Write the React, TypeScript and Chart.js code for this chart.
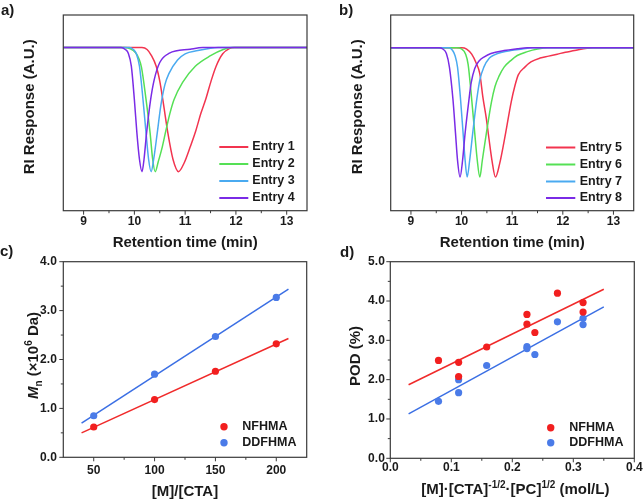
import React, { useEffect, useRef } from 'react';
import { Chart, registerables } from 'chart.js';

Chart.register(...registerables);

// ---------- Panel a: RI traces (retention time, min) ----------
const A_LABELS = ['Entry 1', 'Entry 2', 'Entry 3', 'Entry 4'];
const A1_T = [8.6, 10.15, 10.25, 10.33, 10.43, 10.5, 10.56, 10.66, 10.76, 10.87, 10.98, 11.1, 11.21, 11.31, 11.41, 11.51, 11.61, 11.74, 11.87, 11.97, 13.4];
const A1_V = [0, 0, -0.015, -0.06, -0.15, -0.27, -0.42, -0.69, -0.9, -1, -0.93, -0.8, -0.67, -0.53, -0.41, -0.27, -0.15, -0.05, -0.008, 0, 0];
const A2_T = [8.6, 9.8, 9.92, 10.02, 10.09, 10.14, 10.23, 10.31, 10.36, 10.41, 10.47, 10.55, 10.62, 10.7, 10.78, 10.95, 11.2, 11.5, 11.75, 11.92, 13.4];
const A2_V = [0, 0, -0.01, -0.04, -0.09, -0.16, -0.42, -0.69, -0.9, -1, -0.92, -0.8, -0.67, -0.53, -0.42, -0.28, -0.15, -0.065, -0.015, 0, 0];
const A3_T = [8.6, 9.9, 9.98, 10.04, 10.1, 10.17, 10.23, 10.28, 10.33, 10.38, 10.45, 10.52, 10.6, 10.68, 10.85, 11.0, 11.25, 11.5, 11.65, 13.4];
const A3_V = [0, 0, -0.015, -0.05, -0.15, -0.42, -0.69, -0.9, -1, -0.9, -0.69, -0.47, -0.3, -0.21, -0.1, -0.05, -0.024, -0.005, 0, 0];
const A4_T = [8.6, 9.74, 9.82, 9.88, 9.94, 10.0, 10.05, 10.1, 10.15, 10.19, 10.24, 10.32, 10.39, 10.5, 10.69, 11.1, 11.35, 13.4];
const A4_V = [0, 0, -0.015, -0.045, -0.15, -0.42, -0.69, -0.9, -1, -0.9, -0.69, -0.42, -0.26, -0.12, -0.045, -0.013, 0, 0];

// ---------- Panel b ----------
const B_LABELS = ['Entry 5', 'Entry 6', 'Entry 7', 'Entry 8'];
const B5_T = [8.6, 10.0, 10.1, 10.2, 10.29, 10.36, 10.42, 10.49, 10.54, 10.6, 10.67, 10.75, 10.87, 10.98, 11.05, 11.12, 11.25, 11.37, 11.55, 11.72, 11.89, 12.05, 12.28, 12.48, 12.6, 13.4];
const B5_V = [0, 0, -0.01, -0.05, -0.12, -0.2, -0.38, -0.55, -0.7, -0.87, -1, -0.9, -0.66, -0.42, -0.3, -0.21, -0.15, -0.11, -0.08, -0.065, -0.05, -0.035, -0.018, -0.005, 0, 0];
const B6_T = [8.6, 9.9, 10.0, 10.08, 10.13, 10.2, 10.26, 10.31, 10.36, 10.41, 10.49, 10.59, 10.66, 10.74, 10.84, 10.97, 11.1, 11.3, 11.5, 11.7, 13.4];
const B6_V = [0, 0, -0.01, -0.05, -0.13, -0.4, -0.66, -0.87, -1, -0.87, -0.66, -0.42, -0.3, -0.22, -0.15, -0.1, -0.06, -0.03, -0.01, 0, 0];
const B7_T = [8.6, 9.75, 9.82, 9.87, 9.92, 9.98, 10.03, 10.07, 10.11, 10.16, 10.22, 10.3, 10.36, 10.44, 10.55, 10.65, 10.8, 10.97, 11.2, 11.4, 13.4];
const B7_V = [0, 0, -0.02, -0.06, -0.15, -0.4, -0.66, -0.87, -1, -0.87, -0.66, -0.4, -0.25, -0.15, -0.08, -0.055, -0.035, -0.022, -0.01, 0, 0];
const B8_T = [8.6, 9.55, 9.63, 9.7, 9.76, 9.83, 9.88, 9.92, 9.97, 10.02, 10.07, 10.14, 10.19, 10.26, 10.35, 10.45, 10.58, 10.84, 11.1, 11.3, 13.4];
const B8_V = [0, 0, -0.01, -0.045, -0.15, -0.4, -0.66, -0.87, -1, -0.87, -0.66, -0.42, -0.27, -0.16, -0.1, -0.07, -0.045, -0.022, -0.008, 0, 0];

const RT_TICKS = [9, 10, 11, 12, 13];
const RT_MINOR = [9.5, 10.5, 11.5, 12.5];
const RT_MIN = 8.6;
const RT_MAX = 13.4;

// ---------- Panel c: Mn vs [M]/[CTA] ----------
const C_SERIES = ['NFHMA', 'DDFHMA'];
const C_X = [50, 100, 150, 200];
const C_NF = [0.62, 1.18, 1.76, 2.32];
const C_DD = [0.85, 1.7, 2.47, 3.27];
const C_FIT_X = [40, 210];
const C_NF_FIT = [0.5, 2.43];
const C_DD_FIT = [0.7, 3.44];
const C_X_TICKS = [50, 100, 150, 200];
const C_X_MINOR = [75, 125, 175];
const C_Y_TICKS = [0, 1, 2, 3, 4];
const C_Y_MINOR = [0.5, 1.5, 2.5, 3.5];

// ---------- Panel d: POD vs [M][CTA]^-1/2[PC]^1/2 ----------
const D_NF_X = [0.079, 0.112, 0.112, 0.158, 0.224, 0.224, 0.237, 0.274, 0.316, 0.316];
const D_NF_Y = [2.49, 2.44, 2.08, 2.83, 3.66, 3.41, 3.2, 4.2, 3.96, 3.72];
const D_DD_X = [0.079, 0.112, 0.112, 0.158, 0.224, 0.224, 0.237, 0.274, 0.316, 0.316];
const D_DD_Y = [1.45, 2.0, 1.67, 2.36, 2.84, 2.79, 2.64, 3.47, 3.56, 3.4];
const D_FIT_X = [0.03, 0.35];
const D_NF_FIT = [1.87, 4.3];
const D_DD_FIT = [1.13, 3.85];
const D_X_TICKS = [0, 0.1, 0.2, 0.3, 0.4];
const D_X_MINOR = [0.05, 0.15, 0.25, 0.35];
const D_Y_TICKS = [0, 1, 2, 3, 4, 5];
const D_Y_MINOR = [0.5, 1.5, 2.5, 3.5, 4.5];

// ---------- styles ----------
const FONT = '"Liberation Sans", Arial, Helvetica, sans-serif';
const TEXT = '#1a1a1a';
const FRAME = '#3a3a3a';
const ENTRY_COLORS = ['#f2344f', '#55e055', '#4aaaf0', '#7a2be6'];
const DOT_RED = '#f21f1f';
const DOT_BLUE = '#4a7be8';
const LINE_RED = '#f02a2a';
const LINE_BLUE = '#3b6fe4';

type Seg = { t: string; size?: number; dy?: number; italic?: boolean };

function segFont(s: Seg, base: number) {
  return `${s.italic ? 'italic ' : ''}bold ${s.size ?? base}px ${FONT}`;
}

function drawRich(ctx: CanvasRenderingContext2D, segs: Seg[], cx: number, cy: number, base: number, rotate: boolean) {
  ctx.save();
  ctx.translate(cx, cy);
  if (rotate) ctx.rotate(-Math.PI / 2);
  let w = 0;
  for (const s of segs) {
    ctx.font = segFont(s, base);
    w += ctx.measureText(s.t).width;
  }
  let x = -w / 2;
  ctx.textAlign = 'left';
  ctx.textBaseline = 'alphabetic';
  ctx.fillStyle = TEXT;
  for (const s of segs) {
    ctx.font = segFont(s, base);
    ctx.fillText(s.t, x, base * 0.36 + (s.dy ?? 0));
    x += ctx.measureText(s.t).width;
  }
  ctx.restore();
}

interface Decor {
  letter: string;
  letterX: number;
  letterY: number;
  xTicks: number[];
  xMinor: number[];
  xFmt: (v: number) => string;
  xLabelDy: number;
  yTicks: number[];
  yMinor: number[];
  yFmt: (v: number) => string;
  yLabelDx: number;
  xTitle: Seg[];
  xTitleDy: number;
  xTitleDx: number;
  yTitle: Seg[];
  yTitleDx: number;
  yTitleDy: number;
  legend: { kind: 'line' | 'dot'; x0: number; x1: number; textX: number; rows: number[] };
}

function decorPlugin(cfg: Decor) {
  return {
    id: 'decor',
    afterDraw(chart: any) {
      const ctx: CanvasRenderingContext2D = chart.ctx;
      const ca = chart.chartArea;
      const xs = chart.scales.x;
      const ys = chart.scales.y;
      const seg = (x1: number, y1: number, x2: number, y2: number) => {
        ctx.beginPath();
        ctx.moveTo(x1, y1);
        ctx.lineTo(x2, y2);
        ctx.stroke();
      };
      ctx.save();
      ctx.strokeStyle = FRAME;
      ctx.lineWidth = 1.2;
      ctx.strokeRect(ca.left, ca.top, ca.right - ca.left, ca.bottom - ca.top);
      ctx.lineWidth = 1;
      cfg.xTicks.forEach((v) => { const p = xs.getPixelForValue(v); seg(p, ca.bottom, p, ca.bottom + 4); });
      cfg.xMinor.forEach((v) => { const p = xs.getPixelForValue(v); seg(p, ca.bottom, p, ca.bottom + 2.5); });
      cfg.yTicks.forEach((v) => { const p = ys.getPixelForValue(v); seg(ca.left, p, ca.left - 4, p); });
      cfg.yMinor.forEach((v) => { const p = ys.getPixelForValue(v); seg(ca.left, p, ca.left - 2.5, p); });

      ctx.fillStyle = TEXT;
      ctx.font = `bold 12px ${FONT}`;
      ctx.textAlign = 'center';
      ctx.textBaseline = 'middle';
      cfg.xTicks.forEach((v) => ctx.fillText(cfg.xFmt(v), xs.getPixelForValue(v), ca.bottom + cfg.xLabelDy));
      ctx.textAlign = 'right';
      cfg.yTicks.forEach((v) => ctx.fillText(cfg.yFmt(v), ca.left - cfg.yLabelDx, ys.getPixelForValue(v)));

      drawRich(ctx, cfg.xTitle, (ca.left + ca.right) / 2 + cfg.xTitleDx, ca.bottom + cfg.xTitleDy, 15, false);
      drawRich(ctx, cfg.yTitle, ca.left - cfg.yTitleDx, (ca.top + ca.bottom) / 2 + cfg.yTitleDy, 15, true);

      ctx.fillStyle = TEXT;
      ctx.font = `bold 15px ${FONT}`;
      ctx.textAlign = 'left';
      ctx.textBaseline = 'middle';
      ctx.fillText(cfg.letter, cfg.letterX, cfg.letterY);

      const items = chart.data.datasets.filter((d: any) => d.label);
      items.forEach((d: any, i: number) => {
        const y = cfg.legend.rows[i];
        if (cfg.legend.kind === 'line') {
          ctx.strokeStyle = d.borderColor;
          ctx.lineWidth = 2;
          seg(cfg.legend.x0, y, cfg.legend.x1, y);
        } else {
          ctx.fillStyle = d.backgroundColor;
          ctx.beginPath();
          ctx.arc(cfg.legend.x0, y, 3.7, 0, Math.PI * 2);
          ctx.fill();
        }
        ctx.fillStyle = TEXT;
        ctx.font = `bold 12.5px ${FONT}`;
        ctx.textAlign = 'left';
        ctx.textBaseline = 'middle';
        ctx.fillText(d.label, cfg.legend.textX, y);
      });
      ctx.restore();
    },
  };
}

const pts = (xs: number[], ys: number[]) => xs.map((x, i) => ({ x, y: ys[i] }));

function baseOptions(padding: any, xMin: number, xMax: number, yMin: number, yMax: number) {
  return {
    responsive: false,
    animation: false,
    events: [],
    layout: { padding },
    plugins: { legend: { display: false }, tooltip: { enabled: false } },
    scales: {
      x: { type: 'linear', min: xMin, max: xMax, display: false },
      y: { type: 'linear', min: yMin, max: yMax, display: false },
    },
  };
}

const RI_TITLE: Seg[] = [{ t: 'RI Response (A.U.)' }];
const RT_TITLE: Seg[] = [{ t: 'Retention time (min)' }];
const noFmt = (v: number) => String(v);
const oneDec = (v: number) => v.toFixed(1);

function traceConfig(labels: string[], ts: number[][], vs: number[][], padding: any, yMin: number, yMax: number, decor: Decor) {
  return {
    type: 'line',
    data: {
      datasets: labels.map((label, i) => ({
        label,
        data: pts(ts[i], vs[i]),
        borderColor: ENTRY_COLORS[i],
        backgroundColor: ENTRY_COLORS[i],
        borderWidth: 1.5,
        pointRadius: 0,
        cubicInterpolationMode: 'monotone',
        fill: false,
        order: labels.length - 1 - i,
      })),
    },
    options: baseOptions(padding, RT_MIN, RT_MAX, yMin, yMax),
    plugins: [decorPlugin(decor)],
  };
}

function buildA() {
  return traceConfig(A_LABELS, [A1_T, A2_T, A3_T, A4_T], [A1_V, A2_V, A3_V, A4_V],
    { left: 63.3, top: 15, right: 15, bottom: 39.3 }, -1.315, 0.263, {
      letter: 'a)', letterX: 1, letterY: 11,
      xTicks: RT_TICKS, xMinor: RT_MINOR, xFmt: noFmt, xLabelDy: 11,
      yTicks: [], yMinor: [], yFmt: oneDec, yLabelDx: 6,
      xTitle: RT_TITLE, xTitleDy: 31, xTitleDx: 0,
      yTitle: RI_TITLE, yTitleDx: 35, yTitleDy: -6,
      legend: { kind: 'line', x0: 219.3, x1: 248.3, textX: 252.3, rows: [147, 164, 181, 198] },
    });
}

function buildB() {
  return traceConfig(B_LABELS, [B5_T, B6_T, B7_T, B8_T], [B5_V, B6_V, B7_V, B8_V],
    { left: 68.7, top: 15, right: 10.3, bottom: 39.3 }, -1.26, 0.253, {
      letter: 'b)', letterX: 17, letterY: 11,
      xTicks: RT_TICKS, xMinor: RT_MINOR, xFmt: noFmt, xLabelDy: 11,
      yTicks: [], yMinor: [], yFmt: oneDec, yLabelDx: 6,
      xTitle: RT_TITLE, xTitleDy: 31, xTitleDx: 0,
      yTitle: RI_TITLE, yTitleDx: 34, yTitleDy: -6,
      legend: { kind: 'line', x0: 224, x1: 253.3, textX: 257.7, rows: [147.5, 164.5, 181.5, 198] },
    });
}

function scatterConfig(sets: any[], padding: any, xr: number[], yr: number[], decor: Decor) {
  return {
    type: 'scatter',
    data: { datasets: sets },
    options: baseOptions(padding, xr[0], xr[1], yr[0], yr[1]),
    plugins: [decorPlugin(decor)],
  };
}

function dots(label: string, data: any[], color: string) {
  return { type: 'scatter', label, data, backgroundColor: color, borderColor: color, borderWidth: 0, pointRadius: 3.6, order: 0 };
}
function fitLine(data: any[], color: string) {
  return { type: 'line', label: '', data, borderColor: color, backgroundColor: color, borderWidth: 1.5, pointRadius: 0, showLine: true, fill: false, order: 1 };
}

function buildC() {
  return scatterConfig([
    dots(C_SERIES[0], pts(C_X, C_NF), DOT_RED),
    dots(C_SERIES[1], pts(C_X, C_DD), DOT_BLUE),
    fitLine(pts(C_FIT_X, C_NF_FIT), LINE_RED),
    fitLine(pts(C_FIT_X, C_DD_FIT), LINE_BLUE),
  ], { left: 63.3, top: 21.7, right: 15.3, bottom: 44.7 }, [25, 225], [0, 4], {
    letter: 'c)', letterX: 0, letterY: 12,
    xTicks: C_X_TICKS, xMinor: C_X_MINOR, xFmt: noFmt, xLabelDy: 13,
    yTicks: C_Y_TICKS, yMinor: C_Y_MINOR, yFmt: oneDec, yLabelDx: 6.5,
    xTitle: [{ t: '[M]/[CTA]' }], xTitleDy: 33.5, xTitleDx: 0,
    yTitle: [
      { t: 'M', italic: true },
      { t: 'n', size: 10, dy: 4 },
      { t: ' (×10' },
      { t: '6', size: 10, dy: -6 },
      { t: ' Da)' },
    ], yTitleDx: 31, yTitleDy: -4,
    legend: { kind: 'dot', x0: 224, x1: 0, textX: 242.3, rows: [186.7, 202.7] },
  });
}

function buildD() {
  return scatterConfig([
    dots(C_SERIES[0], pts(D_NF_X, D_NF_Y), DOT_RED),
    dots(C_SERIES[1], pts(D_DD_X, D_DD_Y), DOT_BLUE),
    fitLine(pts(D_FIT_X, D_NF_FIT), LINE_RED),
    fitLine(pts(D_FIT_X, D_DD_FIT), LINE_BLUE),
  ], { left: 68.3, top: 21.7, right: 9.7, bottom: 43.7 }, [0, 0.4], [0, 5], {
    letter: 'd)', letterX: 18, letterY: 13,
    xTicks: D_X_TICKS, xMinor: D_X_MINOR, xFmt: oneDec, xLabelDy: 9,
    yTicks: D_Y_TICKS, yMinor: D_Y_MINOR, yFmt: oneDec, yLabelDx: 5.5,
    xTitle: [
      { t: '[M]·[CTA]' },
      { t: '-1/2', size: 10, dy: -6 },
      { t: '·[PC]' },
      { t: '1/2', size: 10, dy: -6 },
      { t: ' (mol/L)' },
    ], xTitleDy: 30, xTitleDx: 3,
    yTitle: [{ t: 'POD (%)' }], yTitleDx: 36, yTitleDy: -4,
    legend: { kind: 'dot', x0: 228.7, x1: 0, textX: 247.3, rows: [187.7, 202.7] },
  });
}

function Panel({ left, top, w, h, build }: { left: number; top: number; w: number; h: number; build: () => any }) {
  const ref = useRef<HTMLCanvasElement>(null);
  useEffect(() => {
    const chart = new Chart(ref.current as HTMLCanvasElement, build());
    return () => chart.destroy();
  }, []);
  return (
    <canvas
      ref={ref}
      width={w}
      height={h}
      style={{ position: 'absolute', left, top, width: w, height: h, display: 'block' }}
    />
  );
}

export default function App() {
  return (
    <div style={{ position: 'fixed', left: 0, top: 0, width: 644, height: 502, background: '#ffffff', overflow: 'hidden' }}>
      <Panel left={0} top={0} w={322} h={250} build={buildA} />
      <Panel left={322} top={0} w={322} h={250} build={buildB} />
      <Panel left={0} top={240} w={322} h={262} build={buildC} />
      <Panel left={322} top={240} w={322} h={262} build={buildD} />
    </div>
  );
}
